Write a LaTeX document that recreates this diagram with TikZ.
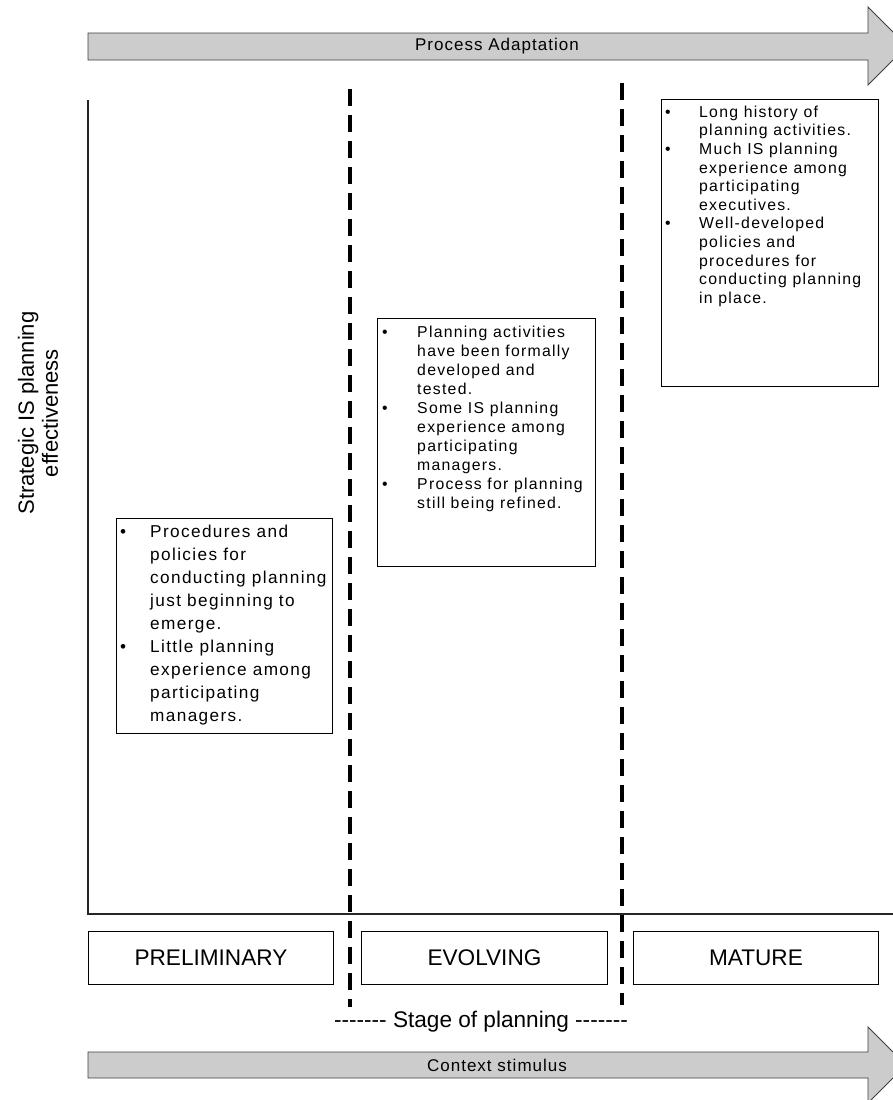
\documentclass[tikz,border=0pt]{standalone}
\usepackage{fontspec}
\setmainfont{Liberation Sans}
\newfontfamily\boxfont[LetterSpace=8]{Liberation Sans}
\newfontfamily\bandfont[LetterSpace=6]{Liberation Sans}
\usepackage{array}

% bullet list set as a two-column table: bullet column of width #1, font size #2,
% line distance #3, then the lines
\newcommand\bulletlist[4]{{\boxfont\fontsize{#2}{#3}\selectfont
  \begin{tabular}{@{}p{#1}@{}l@{}}#4\end{tabular}}}
\newcommand\hyphens{-{}-{}-{}-{}-{}-{}-}

\begin{document}
\begin{tikzpicture}[x=1pt,y=-1pt,
  descbox/.style={draw, line width=0.9pt, anchor=north west, inner sep=0pt},
  desctext/.style={anchor=north west, inner sep=0pt},
  stagebox/.style={draw, line width=0.9pt, minimum height=53pt, anchor=north west,
    inner sep=0pt, font=\fontsize{22.6}{27}\selectfont},
  band/.style={draw=black!75, fill=black!20, line width=0.9pt},
  bandlabel/.style={font=\bandfont\fontsize{17}{20}\selectfont},
  divider/.style={line width=3.5pt, dash pattern=on 17pt off 9pt},
  axisline/.style={line width=1.3pt, black!85},
  ylabel/.style={rotate=90, align=center, font=\fontsize{22}{24}\selectfont},
  stagecap/.style={font=\fontsize{22.6}{27}\selectfont}]

\useasboundingbox (0,0) rectangle (893,1100);

% the two wide arrows, clipped at the page edge
\begin{scope}
  \clip (0,0) rectangle (893,1100);
  \draw[band] (88,33) -- (868,33) -- (868,7) -- (907,46) -- (868,85) -- (868,60) -- (88,60) -- cycle;
  \draw[band] (88,1052) -- (868,1052) -- (868,1027) -- (906,1065) -- (868,1103) -- (868,1078) -- (88,1078) -- cycle;
\end{scope}
\node[bandlabel] (adapt) at (497,46) {Process Adaptation};
\node[bandlabel] (context) at (497,1065) {Context stimulus};

% axes
\coordinate (ytop) at (88,100);
\coordinate (orig) at (88,914);
\coordinate (xend) at (893,914);
\draw[axisline] (ytop) -- (orig) -- (xend);

\node[ylabel] (ylab) at (38,413) {Strategic IS planning\\effectiveness};

% stage dividers
\coordinate (d1top) at (350,89);
\coordinate (d1bot) at (350,1007);
\coordinate (d2top) at (622,83);
\coordinate (d2bot) at (622,1005);
\draw[divider] (d1top) -- (d1bot);
\draw[divider] (d2top) -- (d2bot);

% stage boxes
\node[stagebox, minimum width=245pt] (prelim) at (88,931) {PRELIMINARY};
\node[stagebox, minimum width=246pt] (evolv) at (361,931) {EVOLVING};
\node[stagebox, minimum width=245pt] (mature) at (633,931) {MATURE};

\node[stagecap] (stage) at (481,1022) {\hyphens\ Stage of planning \hyphens};

% descriptions of each stage (y grows downwards here)
\node[descbox, minimum width=216pt, minimum height=215pt] (dprelim) at (116,518) {};
\node[desctext] (tprelim) at ([shift={(4,3)}]dprelim.north west) {\bulletlist{30pt}{17.2}{23}{%
  • & Procedures and\\
    & policies for\\
    & conducting planning\\
    & just beginning to\\
    & emerge.\\
  • & Little planning\\
    & experience among\\
    & participating\\
    & managers.}};

\node[descbox, minimum width=218pt, minimum height=248pt] (devolv) at (377,318) {};
\node[desctext] (tevolv) at ([shift={(5,6)}]devolv.north west) {\bulletlist{35pt}{15.8}{19}{%
  • & Planning activities\\
    & have been formally\\
    & developed and\\
    & tested.\\
  • & Some IS planning\\
    & experience among\\
    & participating\\
    & managers.\\
  • & Process for planning\\
    & still being refined.}};

\node[descbox, minimum width=217pt, minimum height=287pt] (dmature) at (661,99) {};
\node[desctext] (tmature) at ([shift={(4,5)}]dmature.north west) {\bulletlist{34pt}{15.8}{18.6}{%
  • & Long history of\\
    & planning activities.\\
  • & Much IS planning\\
    & experience among\\
    & participating\\
    & executives.\\
  • & Well-developed\\
    & policies and\\
    & procedures for\\
    & conducting planning\\
    & in place.}};

\end{tikzpicture}
\end{document}
